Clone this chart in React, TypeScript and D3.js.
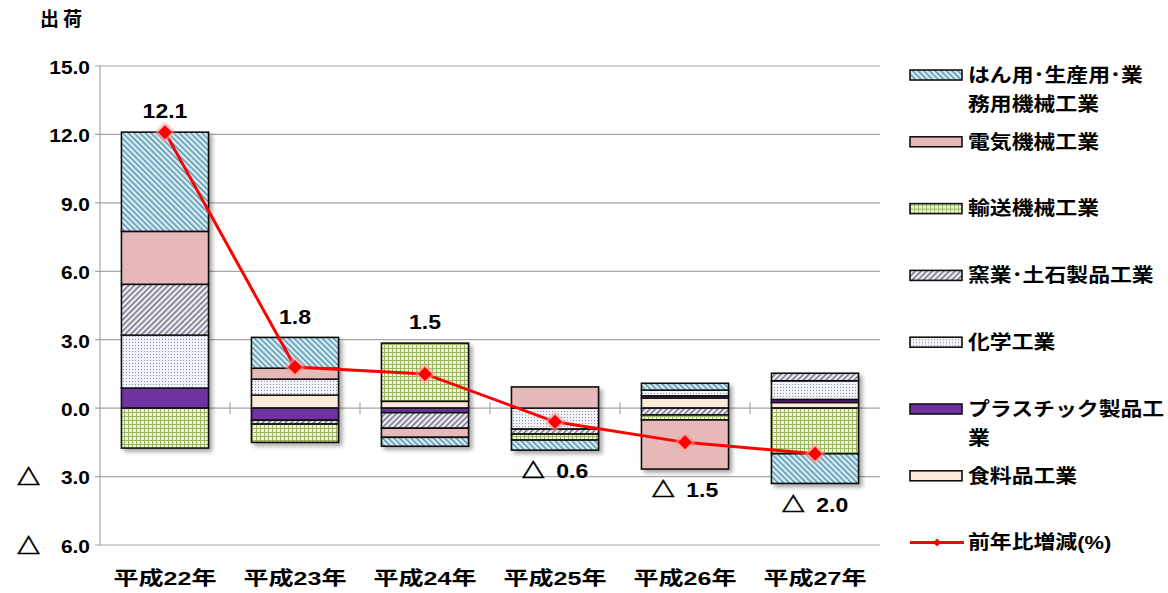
import { useEffect, useRef } from 'react';
import * as d3 from 'd3';

// 年次
const years = ['平成22年', '平成23年', '平成24年', '平成25年', '平成26年', '平成27年'];

// 業種別寄与度（積み上げ順：下から）
const shokuryo = [0, 0.57, 0.3, 0, 0.44, 0.25];
const plastic = [0.88, -0.53, -0.2, 0, 0.1, 0.13];
const kagaku = [2.32, 0.7, 0, -0.92, 0.25, 0.82];
const yogyo = [2.23, -0.17, -0.68, -0.22, -0.3, 0.33];
const yuso = [-1.75, -0.8, 2.55, -0.26, -0.22, -2.0];
const denki = [2.32, 0.48, -0.4, 0.93, -2.15, 0];
const hanyo = [4.35, 1.35, -0.39, -0.44, 0.3, -1.3];

// 前年比増減(%)
const total = [12.1, 1.8, 1.5, -0.6, -1.5, -2.0];

const yTicks = [15, 12, 9, 6, 3, 0, -3, -6];

const series = [
  { key: 'shokuryo', name: '食料品工業', values: shokuryo, fill: '#fde9d9' },
  { key: 'plastic', name: 'プラスチック製品工|業', values: plastic, fill: '#7030a0' },
  { key: 'kagaku', name: '化学工業', values: kagaku, fill: 'url(#pDots)' },
  { key: 'yogyo', name: '窯業･土石製品工業', values: yogyo, fill: 'url(#pGray)' },
  { key: 'yuso', name: '輸送機械工業', values: yuso, fill: 'url(#pGrid)' },
  { key: 'denki', name: '電気機械工業', values: denki, fill: '#e6b9b8' },
  { key: 'hanyo', name: 'はん用･生産用･業|務用機械工業', values: hanyo, fill: 'url(#pBlue)' },
];

const FONT = '"Liberation Sans", "Noto Sans CJK JP", sans-serif';

// 負の値は「△」表記（△は太めに描く）
const writeValue = (text: d3.Selection<SVGTextElement, number, any, any>, gap: string, triSize: number) => {
  text.each(function (v) {
    const t = d3.select(this);
    if (v < 0) {
      t.append('tspan').attr('font-size', triSize).attr('stroke', '#000').attr('stroke-width', 0.7).text('△');
      t.append('tspan').text(gap + Math.abs(v).toFixed(1));
    } else {
      t.text(v.toFixed(1));
    }
  });
};

const ShukkaChart = () => {
  const ref = useRef<SVGSVGElement>(null);

  useEffect(() => {
    const width = 1168;
    const height = 593;
    const plot = { left: 100, right: 880, top: 66, bottom: 545 };

    const svg = d3.select(ref.current);
    svg.selectAll('*').remove();
    svg.attr('width', width).attr('height', height);

    // パターン定義
    const defs = svg.append('defs');

    const pBlue = defs.append('pattern').attr('id', 'pBlue').attr('patternUnits', 'userSpaceOnUse')
      .attr('width', 4).attr('height', 4).attr('patternTransform', 'rotate(-45)');
    pBlue.append('rect').attr('width', 4).attr('height', 4).attr('fill', '#d9ecf3');
    pBlue.append('rect').attr('width', 1.4).attr('height', 4).attr('fill', '#4e8eaa');

    const pGray = defs.append('pattern').attr('id', 'pGray').attr('patternUnits', 'userSpaceOnUse')
      .attr('width', 4).attr('height', 4).attr('patternTransform', 'rotate(45)');
    pGray.append('rect').attr('width', 4).attr('height', 4).attr('fill', '#efeef3');
    pGray.append('rect').attr('width', 1.5).attr('height', 4).attr('fill', '#6e6c84');

    const pDots = defs.append('pattern').attr('id', 'pDots').attr('patternUnits', 'userSpaceOnUse')
      .attr('width', 3).attr('height', 3);
    pDots.append('rect').attr('width', 3).attr('height', 3).attr('fill', '#f1f3f8');
    pDots.append('rect').attr('width', 1).attr('height', 1).attr('fill', '#8b90a6');

    const pGrid = defs.append('pattern').attr('id', 'pGrid').attr('patternUnits', 'userSpaceOnUse')
      .attr('width', 4).attr('height', 4);
    pGrid.append('rect').attr('width', 4).attr('height', 4).attr('fill', '#eef4dc');
    pGrid.append('rect').attr('width', 1).attr('height', 4).attr('fill', '#9ab55c');
    pGrid.append('rect').attr('width', 4).attr('height', 1).attr('fill', '#9ab55c');

    const shadow = defs.append('filter').attr('id', 'shadow')
      .attr('x', '-20%').attr('y', '-20%').attr('width', '140%').attr('height', '140%');
    shadow.append('feDropShadow').attr('dx', 3).attr('dy', 3).attr('stdDeviation', 2)
      .attr('flood-color', '#000').attr('flood-opacity', 0.35);

    const glow = defs.append('filter').attr('id', 'glow')
      .attr('x', '-50%').attr('y', '-50%').attr('width', '200%').attr('height', '200%');
    glow.append('feGaussianBlur').attr('stdDeviation', 1.8);

    // スケール
    const x = d3.scaleBand().domain(years).range([plot.left, plot.right])
      .paddingInner(0.33).paddingOuter(0.165);
    const y = d3.scaleLinear().domain([-6, 15]).range([plot.bottom, plot.top]);

    // 目盛線
    svg.append('g').selectAll('line').data(yTicks).join('line')
      .attr('x1', plot.left - 5).attr('x2', plot.right)
      .attr('y1', d => y(d)).attr('y2', d => y(d))
      .attr('stroke', '#a6a6a6').attr('stroke-width', 1.2);
    svg.append('line')
      .attr('x1', plot.left).attr('x2', plot.left)
      .attr('y1', y(15)).attr('y2', y(-6))
      .attr('stroke', '#a6a6a6').attr('stroke-width', 1.2);

    // 0 の軸上の区切り目盛
    const step = x.step();
    svg.append('g').selectAll('line').data(d3.range(1, years.length)).join('line')
      .attr('x1', i => plot.left + i * step).attr('x2', i => plot.left + i * step)
      .attr('y1', y(0) - 6).attr('y2', y(0) + 6)
      .attr('stroke', '#a6a6a6').attr('stroke-width', 1.2);

    // Y軸ラベル
    const yLab = svg.append('g').selectAll('g').data(yTicks).join('g')
      .attr('transform', d => `translate(90,${y(d) + 1}) scale(1.1,1)`)
      .append('text')
      .attr('text-anchor', 'end').attr('dy', '0.36em')
      .attr('font-family', FONT).attr('font-weight', 'bold').attr('font-size', 19);
    writeValue(yLab, '\u3000', 21);

    svg.append('text')
      .attr('x', 40).attr('y', 26)
      .attr('textLength', 42).attr('lengthAdjust', 'spacing')
      .attr('font-family', FONT).attr('font-weight', 'bold').attr('font-size', 19)
      .text('出 荷');

    // カテゴリラベル
    svg.append('g').selectAll('text').data(years).join('text')
      .attr('x', d => (x(d) as number) + x.bandwidth() / 2 - 51.5)
      .attr('y', 585)
      .attr('textLength', 103).attr('lengthAdjust', 'spacingAndGlyphs')
      .attr('font-family', FONT).attr('font-weight', 'bold').attr('font-size', 19)
      .text(d => d);

    // 積み上げ棒
    const table = years.map((yr, i) => {
      const row: Record<string, any> = { year: yr };
      series.forEach(s => { row[s.key] = s.values[i]; });
      return row;
    });
    const stacked = d3.stack<any>()
      .keys(series.map(s => s.key))
      .order(d3.stackOrderNone)
      .offset(d3.stackOffsetDiverging)(table);

    const bars = svg.append('g').selectAll('g').data(years).join('g')
      .attr('filter', 'url(#shadow)');

    bars.each(function (yr, i) {
      const g = d3.select(this);
      stacked.forEach((layer, si) => {
        const [a, b] = layer[i];
        if (a === b) return;
        g.append('rect')
          .attr('x', x(yr) as number)
          .attr('width', x.bandwidth())
          .attr('y', y(Math.max(a, b)))
          .attr('height', Math.abs(y(a) - y(b)))
          .attr('fill', series[si].fill)
          .attr('stroke', '#111').attr('stroke-width', 1.6);
      });
    });

    // 前年比増減 折れ線
    const cx = (i: number) => (x(years[i]) as number) + x.bandwidth() / 2;
    const line = d3.line<number>().x((_, i) => cx(i)).y(d => y(d));
    svg.append('path').datum(total)
      .attr('d', line)
      .attr('fill', 'none').attr('stroke', '#ff0000').attr('stroke-width', 3);

    const diamond = (r: number) => `M0,${-r}L${r},0L0,${r}L${-r},0Z`;
    const marks = svg.append('g').selectAll('g').data(total).join('g')
      .attr('transform', (d, i) => `translate(${cx(i)},${y(d)})`);
    marks.append('path').attr('d', diamond(10)).attr('fill', '#ff9a9a')
      .attr('opacity', 0.8).attr('filter', 'url(#glow)');
    marks.append('path').attr('d', diamond(7)).attr('fill', '#ff0000');

    // データラベル
    const extents = years.map((_, i) => {
      const lo = d3.min(stacked, l => l[i][0]) as number;
      const hi = d3.max(stacked, l => l[i][1]) as number;
      return [lo, hi];
    });
    const dLab = svg.append('g').selectAll('g').data(total).join('g')
      .attr('transform', (d, i) => {
        const py = d >= 0 ? y(extents[i][1]) - 21 : y(extents[i][0]) + 21;
        return `translate(${cx(i)},${py}) scale(1.15,1)`;
      })
      .append('text')
      .attr('text-anchor', 'middle').attr('dy', '0.36em')
      .attr('font-family', FONT).attr('font-weight', 'bold').attr('font-size', 20);
    writeValue(dLab, '\u2002', 20);

    // 凡例
    const legendItems = [...series].reverse().map(s => ({ name: s.name, fill: s.fill, line: false }));
    legendItems.push({ name: '前年比増減(%)', fill: '', line: true });
    const leg = svg.append('g').selectAll('g').data(legendItems).join('g')
      .attr('transform', (_, i) => `translate(910,${75 + i * 66.8})`);

    leg.filter(d => !d.line).append('rect')
      .attr('x', 0).attr('y', -5).attr('width', 52).attr('height', 10)
      .attr('fill', d => d.fill).attr('stroke', '#111').attr('stroke-width', 1.6);

    const lineLeg = leg.filter(d => d.line);
    lineLeg.append('line').attr('x1', 0).attr('x2', 54).attr('y1', 0).attr('y2', 0)
      .attr('stroke', '#ff0000').attr('stroke-width', 3);
    lineLeg.append('path').attr('d', diamond(4)).attr('transform', 'translate(27,0)').attr('fill', '#ff0000');

    leg.each(function (d) {
      const g = d3.select(this);
      d.name.split('|').forEach((txt, li) => {
        g.append('g')
          .attr('transform', `translate(58,${li * 29}) scale(1.15,1)`)
          .append('text')
          .attr('dy', '0.36em')
          .attr('font-family', FONT).attr('font-weight', 'bold').attr('font-size', 19)
          .text(txt);
      });
    });
  }, []);

  return <svg ref={ref} style={{ position: 'absolute', left: 0, top: 0, background: '#fff' }} />;
};

export default function App() {
  return <ShukkaChart />;
}
